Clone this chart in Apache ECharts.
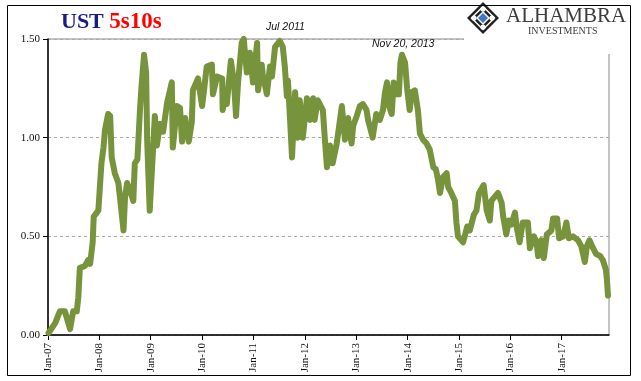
<!DOCTYPE html>
<html><head><meta charset="utf-8">
<script src="https://cdn.jsdelivr.net/npm/echarts@6/dist/echarts.min.js"></script>
<style>html,body{margin:0;padding:0;background:#fff}#c{width:641px;height:381px}</style>
</head><body><div id="c"></div>
<script>
// decimal year positions of the readings
var years = [2007.01,2007.14,2007.23,2007.33,2007.43,2007.49,2007.56,2007.59,2007.62,2007.72,2007.78,2007.82,2007.87,2007.89,2007.98,
2008.01,2008.04,2008.08,2008.11,2008.17,2008.21,2008.24,2008.30,2008.37,2008.40,2008.47,2008.50,2008.54,2008.60,2008.66,2008.69,2008.74,2008.79,2008.82,2008.87,2008.91,2008.93,2008.98,
2009.03,2009.08,2009.12,2009.18,2009.24,2009.32,2009.41,2009.43,2009.51,2009.57,2009.61,2009.67,2009.74,2009.80,2009.82,2009.92,
2010.00,2010.05,2010.09,2010.19,2010.21,2010.29,2010.39,2010.40,2010.44,2010.48,2010.56,2010.62,2010.66,2010.70,2010.77,2010.81,2010.87,2010.93,2010.99,
2011.07,2011.09,2011.16,2011.18,2011.26,2011.32,2011.36,2011.42,2011.51,2011.57,2011.61,2011.65,2011.67,2011.71,2011.75,2011.81,2011.86,2011.90,2011.96,
2012.04,2012.10,2012.16,2012.19,2012.25,2012.35,2012.39,2012.43,2012.49,2012.54,2012.62,2012.72,2012.78,2012.84,2012.91,2012.94,
2013.01,2013.07,2013.13,2013.20,2013.23,2013.26,2013.32,2013.36,2013.39,2013.46,2013.52,2013.56,2013.60,2013.64,2013.69,2013.73,2013.78,2013.83,2013.86,2013.89,2013.95,2013.99,
2014.04,2014.08,2014.14,2014.20,2014.24,2014.30,2014.37,2014.43,2014.50,2014.55,2014.59,2014.63,2014.69,2014.76,2014.79,2014.85,2014.92,2014.95,2014.98,
2015.08,2015.16,2015.21,2015.29,2015.34,2015.39,2015.48,2015.54,2015.60,2015.63,2015.76,2015.83,2015.86,2015.92,2015.97,
2016.02,2016.09,2016.12,2016.18,2016.24,2016.34,2016.38,2016.46,2016.51,2016.54,2016.60,2016.65,2016.71,2016.80,2016.83,2016.91,2016.95,
2017.03,2017.09,2017.14,2017.22,2017.32,2017.38,2017.45,2017.49,2017.54,2017.61,2017.67,2017.75,2017.80,2017.86,2017.88,2017.90];
// UST 5s10s spread values
var values = [0.01,0.06,0.12,0.12,0.03,0.12,0.12,0.19,0.34,0.35,0.38,0.36,0.47,0.60,0.63,
0.75,0.87,0.95,1.04,1.12,1.11,0.90,0.82,0.77,0.70,0.53,0.70,0.77,0.73,0.68,0.87,0.89,1.14,1.26,1.42,1.33,0.99,0.63,
0.87,1.11,0.96,1.07,1.03,1.18,1.28,0.95,1.16,1.15,0.98,1.10,0.98,1.08,1.24,1.30,
1.16,1.27,1.36,1.37,1.22,1.31,1.30,1.14,1.23,1.17,1.39,1.28,1.11,1.28,1.48,1.50,1.33,1.43,1.28,
1.48,1.24,1.37,1.32,1.22,1.36,1.31,1.46,1.49,1.46,1.36,1.21,1.29,1.10,0.90,1.23,1.00,1.19,1.00,
1.20,1.09,1.20,1.09,1.19,1.14,0.99,0.85,0.96,0.87,0.97,1.16,0.99,1.10,0.97,1.06,
1.11,1.16,1.17,1.14,1.09,1.06,1.00,1.07,1.12,1.09,1.14,1.23,1.28,1.16,1.12,1.28,1.22,1.22,1.38,1.42,1.38,1.25,
1.14,1.23,1.24,1.14,1.02,0.99,0.97,0.94,0.85,0.84,0.79,0.72,0.80,0.82,0.75,0.72,0.68,0.57,0.50,
0.47,0.55,0.53,0.61,0.63,0.72,0.76,0.63,0.58,0.68,0.72,0.67,0.60,0.51,0.58,
0.56,0.62,0.55,0.47,0.57,0.57,0.44,0.50,0.47,0.40,0.48,0.39,0.51,0.53,0.59,0.59,0.49,
0.50,0.57,0.49,0.50,0.48,0.45,0.37,0.45,0.48,0.44,0.41,0.40,0.38,0.33,0.28,0.20];
var yTicks = [0, 0.5, 1.0, 1.5];
var xTickYears = [2007,2008,2009,2010,2011,2012,2013,2014,2015,2016,2017];

var data = years.map(function(y,i){return [y, values[i]];});
var chart = echarts.init(document.getElementById('c'), null, {renderer:'canvas'});
var serif = '"Liberation Serif", "DejaVu Serif", serif';
var sans = '"Liberation Sans", Arial, sans-serif';
var cx = 483, cy = 18;
function dia(r){ return [[cx,cy-r],[cx+r,cy],[cx,cy+r],[cx-r,cy]]; }
chart.setOption({
  animation:false,
  backgroundColor:'#fff',
  title:{
    text:'{a|UST }{b|5s10s}',
    left:56, top:6,
    textStyle:{rich:{
      a:{fontFamily:serif, fontSize:22, color:'#1b1b85'},
      b:{fontFamily:serif, fontSize:23, fontWeight:'bold', color:'#ff0000'}
    }}
  },
  grid:{left:48, right:32, top:39, bottom:46, show:true, borderColor:'#888', borderWidth:1, backgroundColor:'transparent'},
  xAxis:{
    type:'value', min:2007, max:2017.92, interval:1,
    axisLine:{show:true, lineStyle:{color:'#000', width:1.5}},
    axisTick:{show:true, length:5, lineStyle:{color:'#000'}},
    splitLine:{show:false},
    axisLabel:{rotate:90, fontFamily:serif, fontSize:11, color:'#111', margin:8, showMaxLabel:false,
      formatter:function(v){ return xTickYears.indexOf(v)>=0 ? 'Jan-' + String(v).slice(2) : ''; }}
  },
  yAxis:{
    type:'value', min:0, max:1.5, interval:0.5,
    axisLine:{show:true, lineStyle:{color:'#000', width:1.5}},
    axisTick:{show:true, length:5, lineStyle:{color:'#000'}},
    splitLine:{show:true, lineStyle:{color:'#aaa', type:[3,3], width:1}},
    axisLabel:{fontFamily:serif, fontSize:11, color:'#111', margin:8,
      formatter:function(v){return v.toFixed(2);}}
  },
  series:[{
    type:'line', data:data, showSymbol:false, clip:false,
    lineStyle:{color:'#77933C', width:6, join:'round', cap:'round'},
    itemStyle:{color:'#77933C'}
  }],
  graphic:[
    {type:'rect', z:100, shape:{x:464, y:0, width:177, height:54}, style:{fill:'#fff'}},
    {type:'text', z:101, left:266, top:22, style:{text:'Jul 2011', font:'italic 10.5px '+sans, fill:'#111'}},
    {type:'text', z:101, left:372, top:39, style:{text:'Nov 20, 2013', font:'italic 10.5px '+sans, fill:'#111'}},
    // logo
    {type:'polygon', z:101, shape:{points:dia(16)}, style:{fill:'#222'}},
    {type:'polygon', z:102, shape:{points:dia(12.5)}, style:{fill:'#fff'}},
    {type:'polygon', z:103, shape:{points:dia(10.5)}, style:{fill:'#222'}},
    {type:'circle', z:104, shape:{cx:cx, cy:cy-9, r:2.6}, style:{fill:'#fff'}},
    {type:'circle', z:104, shape:{cx:cx, cy:cy+9, r:2.6}, style:{fill:'#fff'}},
    {type:'circle', z:104, shape:{cx:cx-9, cy:cy, r:2.6}, style:{fill:'#fff'}},
    {type:'circle', z:104, shape:{cx:cx+9, cy:cy, r:2.6}, style:{fill:'#fff'}},
    {type:'polygon', z:104, shape:{points:dia(7)}, style:{fill:'#fff'}},
    {type:'polygon', z:105, shape:{points:dia(5)}, style:{fill:'#3b78c8'}},
    {type:'text', z:101, left:506, top:6, style:{text:'ALHAMBRA', font:'21px '+serif, fill:'#3c3c3c'}},
    {type:'text', z:101, left:528, top:26, style:{text:'INVESTMENTS', font:'10px '+serif, fill:'#3c3c3c'}},
    {type:'rect', z:110, shape:{x:7.5, y:5.5, width:623, height:370}, style:{fill:'none', stroke:'#000', lineWidth:1}}
  ]
});
</script></body></html>
